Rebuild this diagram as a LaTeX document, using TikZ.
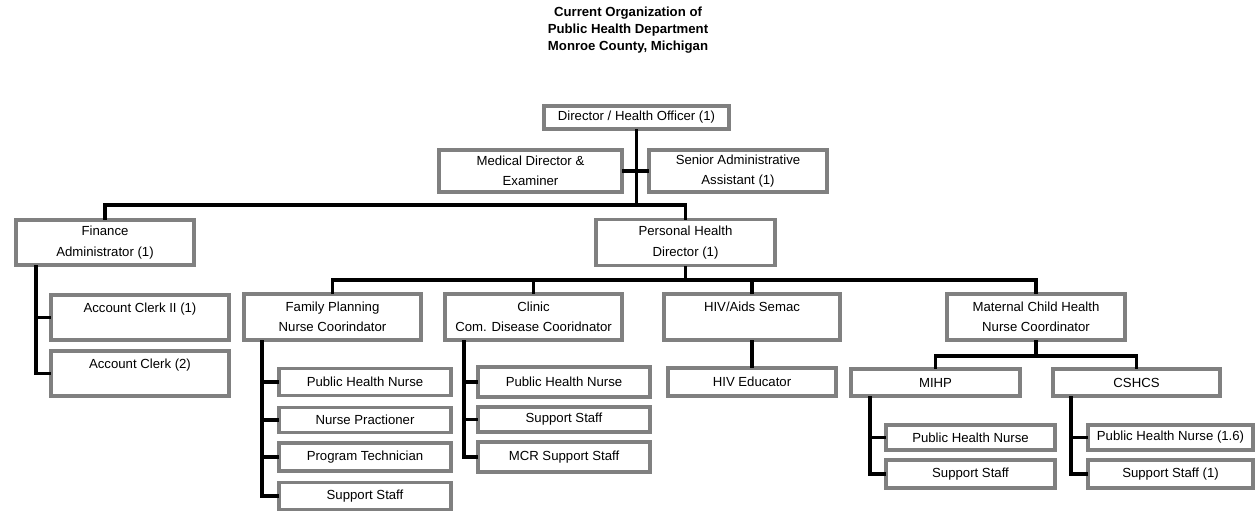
\documentclass[tikz,border=0pt]{standalone}
\usepackage{fontspec}
\setmainfont{Liberation Sans}
\usepackage{tikz}
\definecolor{edge}{HTML}{808080}

\tikzset{
  box/.style={draw=edge, line width=2.2pt, fill=white, align=center, inner sep=0pt,
    font=\fontsize{7.5}{11.6}\selectfont},
  wire/.style={line width=2.2pt, line cap=rect}
}

\begin{document}
\begin{tikzpicture}[x=0.02cm, y=-0.02cm]
\useasboundingbox (0,0) rectangle (1256,511);

% title
\node[align=center, font=\fontsize{7.5}{9.6}\selectfont\bfseries] (title) at (628,30)
  {Current Organization of\\Public Health Department\\Monroe County, Michigan};

% top level
\node[box, minimum width=3.70cm, minimum height=0.46cm] (dir) at (636.5,117.5) {Director / Health Officer (1)};
\node[box, minimum width=3.66cm, minimum height=0.84cm] (med) at (530.5,171) {Medical Director \&\\Examiner};
\node[box, minimum width=3.56cm, minimum height=0.84cm] (sen) at (738,171) {Senior Administrative\\Assistant (1)};
\node[box, minimum width=3.56cm, minimum height=0.90cm] (fin) at (105,242.5) {Finance\\Administrator (1)};
\node[box, minimum width=3.58cm, minimum height=0.92cm] (per) at (685.5,242.5) {Personal Health\\Director (1)};

% finance
\node[box, minimum width=3.56cm, minimum height=0.90cm] (clerkb) at (140,317.5) {Account Clerk II (1)\\\mbox{}};
\node[box, minimum width=3.56cm, minimum height=0.90cm] (clerka) at (140,373.5) {Account Clerk (2)\\\mbox{}};

% personal health units
\node[box, minimum width=3.54cm, minimum height=0.92cm] (fp) at (332.5,317) {Family Planning\\Nurse Coorindator};
\node[box, minimum width=3.54cm, minimum height=0.92cm] (cl) at (533.5,317) {Clinic\\Com. Disease Cooridnator};
\node[box, minimum width=3.52cm, minimum height=0.92cm] (hiv) at (752,317) {HIV/Aids Semac\\\mbox{}};
\node[box, minimum width=3.56cm, minimum height=0.92cm] (mch) at (1036,317) {Maternal Child Health\\Nurse Coordinator};

% family planning staff
\node[box, minimum width=3.44cm, minimum height=0.54cm] (fpa) at (365,382) {Public Health Nurse};
\node[box, minimum width=3.44cm, minimum height=0.50cm] (fpb) at (365,420) {Nurse Practioner};
\node[box, minimum width=3.44cm, minimum height=0.56cm] (fpc) at (365,457) {Program Technician};
\node[box, minimum width=3.44cm, minimum height=0.54cm] (fpd) at (365,496) {Support Staff};

% clinic staff
\node[box, minimum width=3.44cm, minimum height=0.60cm] (cla) at (564,382) {Public Health Nurse};
\node[box, minimum width=3.44cm, minimum height=0.50cm] (clb) at (564,419.5) {Support Staff};
\node[box, minimum width=3.44cm, minimum height=0.60cm] (clc) at (564,457) {MCR Support Staff};

% hiv
\node[box, minimum width=3.36cm, minimum height=0.56cm] (hived) at (752,382) {HIV Educator};

% maternal child health
\node[box, minimum width=3.38cm, minimum height=0.54cm] (mihp) at (935.5,382.5) {MIHP};
\node[box, minimum width=3.34cm, minimum height=0.54cm] (cshcs) at (1136.5,382.5) {CSHCS};
\node[box, minimum width=3.38cm, minimum height=0.50cm] (mia) at (970.5,437.5) {Public Health Nurse};
\node[box, minimum width=3.38cm, minimum height=0.56cm] (mib) at (970.5,474) {Support Staff};
\node[box, minimum width=3.30cm, minimum height=0.50cm] (csa) at (1170.5,437.5) {Public Health Nurse (1.6)};
\node[box, minimum width=3.30cm, minimum height=0.56cm] (csb) at (1170.5,474) {Support Staff (1)};

% connectors
\coordinate (bar) at (0,205);
\coordinate (pbar) at (0,280);
\coordinate (mbar) at (0,356);

\draw[wire] (dir.south) -- (dir.south |- bar);
\draw[wire] (med.east) -- (sen.west);
\draw[wire] (fin.north) |- (per.north |- bar) -- (per.north);

\draw[wire] ([xshift=0.44cm]fin.south west) coordinate (fs) |- (clerka.west);
\draw[wire] (fs |- clerkb.west) -- (clerkb.west);

\draw[wire] (per.south) -- (per.south |- pbar);
\draw[wire] (fp.north) |- (mch.north |- pbar) -- (mch.north);
\draw[wire] (cl.north) -- (cl.north |- pbar);
\draw[wire] (hiv.north) -- (hiv.north |- pbar);

\draw[wire] ([xshift=0.40cm]fp.south west) coordinate (fps) |- (fpd.west);
\foreach \k in {fpa,fpb,fpc} \draw[wire] (fps |- \k.west) -- (\k.west);

\draw[wire] ([xshift=0.42cm]cl.south west) coordinate (cls) |- (clc.west);
\foreach \k in {cla,clb} \draw[wire] (cls |- \k.west) -- (\k.west);

\draw[wire] (hiv.south) -- (hived.north);

\draw[wire] (mch.south) -- (mch.south |- mbar);
\draw[wire] (mihp.north) |- (cshcs.north |- mbar) -- (cshcs.north);

\draw[wire] ([xshift=0.42cm]mihp.south west) coordinate (ms) |- (mib.west);
\draw[wire] (ms |- mia.west) -- (mia.west);
\draw[wire] ([xshift=0.40cm]cshcs.south west) coordinate (cs) |- (csb.west);
\draw[wire] (cs |- csa.west) -- (csa.west);
\end{tikzpicture}
\end{document}
